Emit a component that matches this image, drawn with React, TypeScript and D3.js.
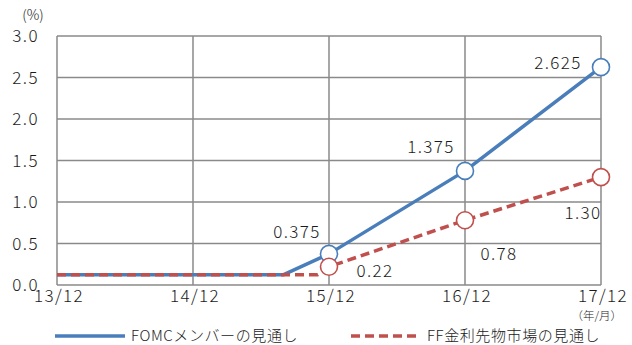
import React from "react";
import * as d3 from "d3";

// ---- data ----
const tickLabels = ["13/12", "14/12", "15/12", "16/12", "17/12"];
const tickMonths = [0, 12, 24, 36, 48];
const yTicks = [0, 0.5, 1.0, 1.5, 2.0, 2.5, 3.0];

const fomcMonths = [0, 20, 24, 36, 48];
const fomcValues = [0.125, 0.125, 0.375, 1.375, 2.625];
const fomcMarkerIdx = [2, 3, 4];
const fomcLabels = ["0.375", "1.375", "2.625"];

const ffMonths = [0, 23, 24, 36, 48];
const ffValues = [0.125, 0.125, 0.22, 0.78, 1.3];
const ffMarkerIdx = [2, 3, 4];
const ffLabels = ["0.22", "0.78", "1.30"];

const seriesNames = ["FOMCメンバーの見通し", "FF金利先物市場の見通し"];

// label placement offsets (px) relative to markers
const fomcLabelOffsets: [number, number][] = [[-32, -22], [-34, -24], [-43, -4]];
const ffLabelOffsets: [number, number][] = [[46, 4], [34, 34], [-18, 36]];

const BLUE = "#4a7ebb";
const RED = "#c0504d";
const GRID = "#8a8a8a";
const FONT = "'Noto Sans CJK JP', sans-serif";
const TXT = "#1a1a1a";

export default function App() {
  const W = 632, H = 345;
  const x = d3.scaleLinear().domain([0, 48]).range([57, 601]);
  const y = d3.scaleLinear().domain([0, 3]).range([285, 36]);
  const line = d3.line<[number, number]>().x(d => x(d[0])).y(d => y(d[1]));

  const fomcPts: [number, number][] = fomcMonths.map((m, i) => [m, fomcValues[i]]);
  const ffPts: [number, number][] = ffMonths.map((m, i) => [m, ffValues[i]]);

  const numStyle = { letterSpacing: "1.4px" };

  return (
    <svg width={W} height={H} style={{ position: "absolute", left: 0, top: 0 }} fontFamily={FONT} fontWeight={300}>
      <rect x={0} y={0} width={W} height={H} fill="#fff" />
      {/* grid */}
      {yTicks.map(t => (
        <line key={"gy" + t} x1={x(0)} x2={x(48)} y1={y(t)} y2={y(t)} stroke={GRID} strokeWidth={1.5} />
      ))}
      {tickMonths.map(m => (
        <line key={"gx" + m} x1={x(m)} x2={x(m)} y1={y(0)} y2={y(3)} stroke={GRID} strokeWidth={1.5} />
      ))}
      {/* y labels */}
      {yTicks.map(t => (
        <text key={"yl" + t} x={39} y={y(t)} dy="0.36em" textAnchor="end" fontSize={17} fill={TXT} style={numStyle}>
          {t.toFixed(1)}
        </text>
      ))}
      <text x={33} y={20} textAnchor="middle" fontSize={14} fill={TXT}>(%)</text>
      {/* x labels */}
      {tickMonths.map((m, i) => (
        <text key={"xl" + m} x={x(m) + 2} y={302} textAnchor="middle" fontSize={17} fill={TXT} style={numStyle}>
          {tickLabels[i]}
        </text>
      ))}
      <text x={622} y={320} textAnchor="end" fontSize={11.5} fill={TXT}>（年/月）</text>

      {/* series */}
      <path d={line(fomcPts) || ""} fill="none" stroke={BLUE} strokeWidth={3.5} strokeLinejoin="round" />
      <path d={line(ffPts) || ""} fill="none" stroke={RED} strokeWidth={3.5} strokeDasharray="9,5" />
      {fomcMarkerIdx.map(idx => (
        <circle key={"fm" + idx} cx={x(fomcMonths[idx])} cy={y(fomcValues[idx])} r={8.5} fill="#fff" stroke={BLUE} strokeWidth={1.6} />
      ))}
      {ffMarkerIdx.map(idx => (
        <circle key={"rm" + idx} cx={x(ffMonths[idx])} cy={y(ffValues[idx])} r={8.5} fill="#fff" stroke={RED} strokeWidth={1.6} />
      ))}
      {fomcMarkerIdx.map((idx, k) => (
        <text key={"fl" + idx} x={x(fomcMonths[idx]) + fomcLabelOffsets[k][0]} y={y(fomcValues[idx]) + fomcLabelOffsets[k][1]} dy="0.36em" textAnchor="middle" fontSize={17} fill={TXT} style={numStyle}>
          {fomcLabels[k]}
        </text>
      ))}
      {ffMarkerIdx.map((idx, k) => (
        <text key={"rl" + idx} x={x(ffMonths[idx]) + ffLabelOffsets[k][0]} y={y(ffValues[idx]) + ffLabelOffsets[k][1]} dy="0.36em" textAnchor="middle" fontSize={17} fill={TXT} style={numStyle}>
          {ffLabels[k]}
        </text>
      ))}

      {/* legend */}
      <line x1={55} x2={125} y1={336} y2={336} stroke={BLUE} strokeWidth={3.5} />
      <text x={131} y={335.5} dy="0.36em" fontSize={15} fill={TXT} style={{ letterSpacing: "0.6px" }}>{seriesNames[0]}</text>
      <line x1={351} x2={421} y1={336} y2={336} stroke={RED} strokeWidth={3.5} strokeDasharray="9,5" />
      <text x={427} y={335.5} dy="0.36em" fontSize={15} fill={TXT} style={{ letterSpacing: "0.6px" }}>{seriesNames[1]}</text>
    </svg>
  );
}
